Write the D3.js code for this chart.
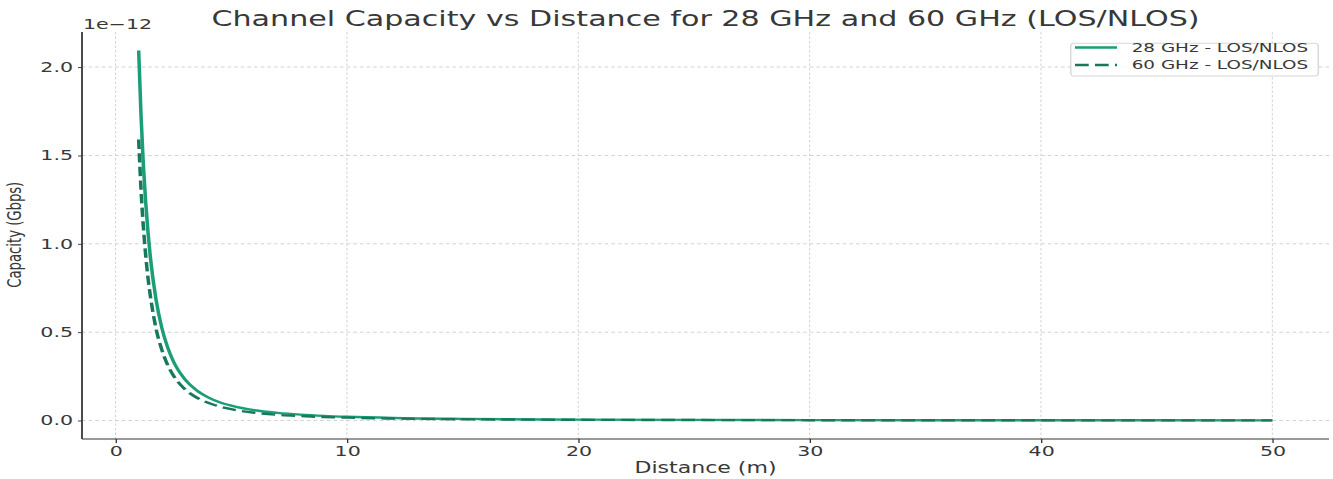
<!DOCTYPE html>
<html>
<head>
<meta charset="utf-8">
<script src="https://cdn.jsdelivr.net/npm/d3@7"></script>
<style>
  html, body { margin: 0; padding: 0; background: #fff; }
  svg { display: block; }
  text { font-family: "DejaVu Sans", sans-serif; fill: #383838; }
</style>
</head>
<body>
<svg id="chart"></svg>
<script>
// ---- data (capacity in units of 1e-12 Gbps) ----
const distances = [1, 1.1, 1.2, 1.3, 1.4, 1.5, 1.75, 2, 2.25, 2.5, 3, 3.5, 4, 4.5, 5, 6, 7, 8, 9, 10, 12, 15, 20, 25, 30, 35, 40, 45, 50];
const capacity28 = [2.094, 1.73, 1.45, 1.24, 1.07, 0.93, 0.684, 0.524, 0.414, 0.335, 0.233, 0.171, 0.131, 0.103, 0.084, 0.058, 0.043, 0.033, 0.026, 0.021, 0.0145, 0.0093, 0.0052, 0.0034, 0.0023, 0.0017, 0.0013, 0.0010, 0.0008];
const capacity60 = [1.59, 1.31, 1.10, 0.94, 0.81, 0.71, 0.52, 0.40, 0.315, 0.255, 0.177, 0.13, 0.10, 0.079, 0.064, 0.044, 0.032, 0.025, 0.0196, 0.016, 0.011, 0.0071, 0.004, 0.0025, 0.0018, 0.0013, 0.001, 0.0008, 0.0006];
const seriesNames = ["28 GHz - LOS/NLOS", "60 GHz - LOS/NLOS"];
const xTicks = [0, 10, 20, 30, 40, 50];
const yTicks = [0, 0.5, 1.0, 1.5, 2.0];
const yOffsetLabel = "1e\u221212";
const titleText = "Channel Capacity vs Distance for 28 GHz and 60 GHz (LOS/NLOS)";
const xLabelText = "Distance (m)";
const yLabelText = "Capacity (Gbps)";

(function draw() {
  // ---- layout (virtual coords, stretched horizontally to the window) ----
  const W = 1333, H = 479, SX = 1.47;
  const VW = W / SX;
  const r = v => v / SX; // real px -> virtual px (horizontal)

  const svg = d3.select("#chart")
    .attr("width", W).attr("height", H)
    .attr("viewBox", `0 0 ${VW} ${H}`)
    .attr("preserveAspectRatio", "none");

  const pLeft = r(82), pRight = r(1329), pTop = 32, pBottom = 439;

  const xMin = d3.min(distances), xMax = d3.max(distances);
  const xPad = (xMax - xMin) * 0.05;
  const x = d3.scaleLinear().domain([xMin - xPad, xMax + xPad]).range([pLeft, pRight]);
  const yMaxV = d3.max(capacity28);
  const yPad = yMaxV * 0.05;
  const y = d3.scaleLinear().domain([0 - yPad, yMaxV + yPad]).range([pBottom, pTop]);

  // grid
  const grid = svg.append("g");
  grid.selectAll("line.v").data(xTicks).join("line").attr("class", "v")
    .attr("x1", d => x(d)).attr("x2", d => x(d))
    .attr("y1", pTop).attr("y2", pBottom)
    .attr("stroke", "#d4d4d4").attr("stroke-width", 0.7)
    .attr("stroke-dasharray", "2.5,2");
  grid.selectAll("line.h").data(yTicks).join("line").attr("class", "h")
    .attr("x1", pLeft).attr("x2", pRight)
    .attr("y1", d => y(d)).attr("y2", d => y(d))
    .attr("stroke", "#d4d4d4").attr("stroke-width", 1)
    .attr("stroke-dasharray", "2.5,2");

  // lines
  const pts28 = distances.map((d, i) => [d, capacity28[i]]);
  const pts60 = distances.map((d, i) => [d, capacity60[i]]);
  const line = d3.line().x(d => x(d[0])).y(d => y(d[1])).curve(d3.curveMonotoneX);
  const c28 = "#1b9e77", c60 = "#18785b";
  const dash = `${r(13.7)},${r(6.3)}`;
  svg.append("path").attr("d", line(pts28))
    .attr("fill", "none").attr("stroke", c28).attr("stroke-width", 2.4);
  svg.append("path").attr("d", line(pts60))
    .attr("fill", "none").attr("stroke", c60).attr("stroke-width", 2.4)
    .attr("stroke-dasharray", dash);

  // axes
  const xAxis = svg.append("g").attr("transform", `translate(0,${pBottom})`)
    .call(d3.axisBottom(x).tickValues(xTicks).tickSize(4).tickPadding(3).tickFormat(d3.format("d")));
  const yAxis = svg.append("g").attr("transform", `translate(${pLeft},0)`)
    .call(d3.axisLeft(y).tickValues(yTicks).tickSize(r(4)).tickPadding(r(5)).tickFormat(d3.format(".1f")));
  [xAxis, yAxis].forEach(a => {
    a.select(".domain").attr("stroke", "#333").attr("stroke-width", 1.2);
    a.selectAll(".tick line").attr("stroke", "#333").attr("stroke-width", 0.9);
    a.selectAll(".tick text").attr("font-size", 14).attr("fill", "#383838")
      .attr("font-family", "DejaVu Sans, sans-serif");
  });
  xAxis.select(".domain").attr("d", `M${pLeft},0H${pRight}`);
  yAxis.select(".domain").attr("d", `M0,${pTop}V${pBottom}`);

  // offset label
  svg.append("text").attr("x", r(83)).attr("y", 29)
    .attr("font-size", 14).text(yOffsetLabel);

  // title
  svg.append("text").attr("x", (pLeft + pRight) / 2).attr("y", 26)
    .attr("text-anchor", "middle").attr("font-size", 20.5).text(titleText);

  // x label
  svg.append("text").attr("x", (pLeft + pRight) / 2).attr("y", 473)
    .attr("text-anchor", "middle").attr("font-size", 15).text(xLabelText);

  // y label
  svg.append("text").attr("transform", `translate(${r(20.7)},234.7) rotate(-90)`)
    .attr("text-anchor", "middle").attr("font-size", 13.2).text(yLabelText);

  // legend
  const lg = svg.append("g");
  lg.append("rect").attr("x", r(1070.7)).attr("y", 43.3)
    .attr("width", r(1318.3 - 1070.7)).attr("height", 76 - 43.3)
    .attr("rx", 2).attr("ry", 3)
    .attr("fill", "#fff").attr("fill-opacity", 0.8)
    .attr("stroke", "#d8d8d8").attr("stroke-width", 1);
  const rows = [{name: seriesNames[0], color: c28, dash: null, yy: 47.5},
                {name: seriesNames[1], color: c60, dash: dash, yy: 65}];
  rows.forEach(rw => {
    const l = lg.append("line").attr("x1", r(1075)).attr("x2", r(1117))
      .attr("y1", rw.yy).attr("y2", rw.yy)
      .attr("stroke", rw.color).attr("stroke-width", 2.4);
    if (rw.dash) l.attr("stroke-dasharray", rw.dash);
    lg.append("text").attr("x", r(1131.7)).attr("y", rw.yy + 4.5)
      .attr("font-size", 12.5).text(rw.name);
  });
})();
</script>
</body>
</html>
